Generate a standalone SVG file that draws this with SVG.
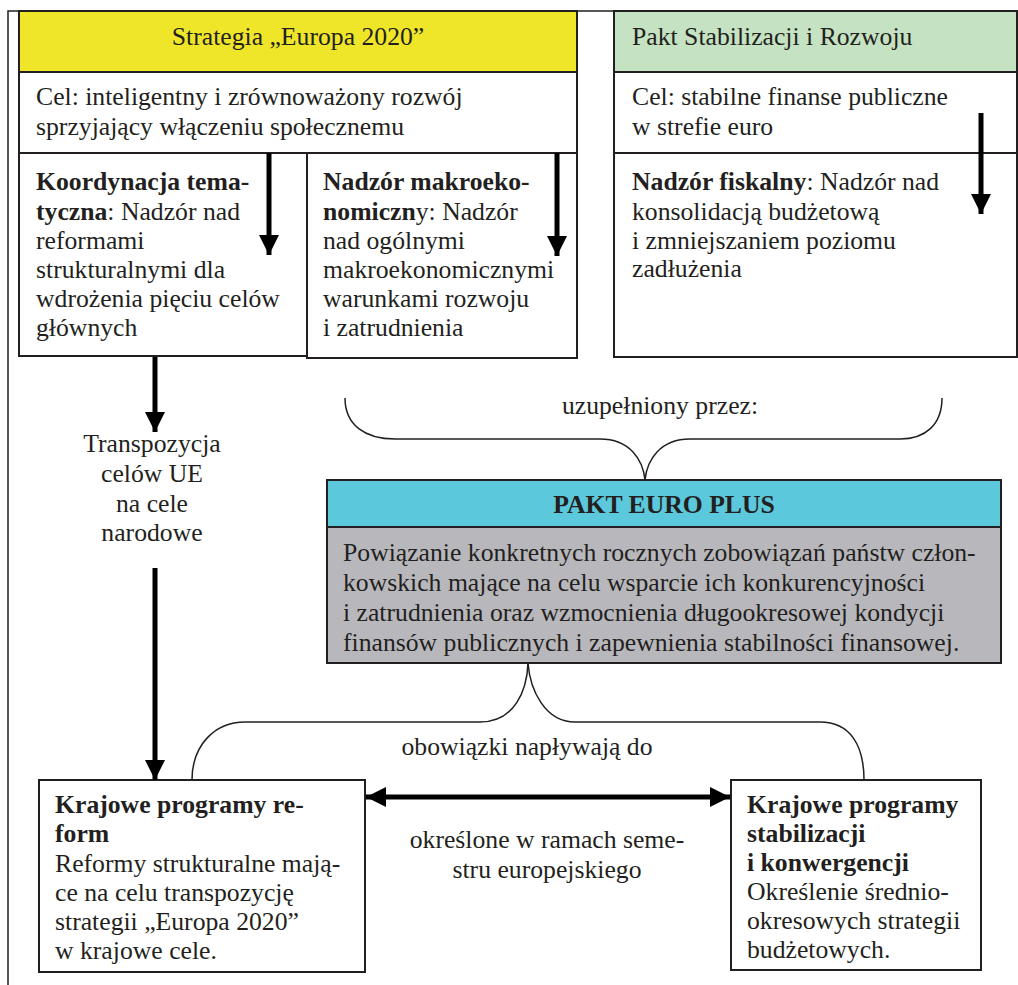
<svg xmlns="http://www.w3.org/2000/svg" width="1018" height="985" viewBox="0 0 1018 985">
<style>
.t{font-family:"Liberation Serif","Times New Roman",serif;font-size:25.7px;fill:#231f20}
.b{font-weight:bold}
.c{text-anchor:middle}
.box{fill:#fff;stroke:#231f20;stroke-width:2}
.ln{fill:none;stroke:#231f20;stroke-width:1.5}
.ar{fill:none;stroke:#000;stroke-width:5}
</style>
<defs>
<marker id="ah" viewBox="0 0 10 10" refX="10" refY="5" markerWidth="4.2" markerHeight="4" orient="auto" markerUnits="strokeWidth">
<path d="M0,0L10,5L0,10z" fill="#000"/>
</marker>
<marker id="ah2" viewBox="0 0 10 10" refX="0" refY="5" markerWidth="4.2" markerHeight="4" orient="auto" markerUnits="strokeWidth">
<path d="M10,0L0,5L10,10z" fill="#000"/>
</marker>
</defs>

<path class="ln" d="M8,985V11H1018"/>

<g class="t" font-family="Liberation Serif, serif">
<g id="strategia">
<rect x="19" y="11" width="558" height="61" fill="#f0e629" stroke="#231f20" stroke-width="2"/>
<text class="c" x="298" y="45">Strategia „Europa 2020”</text>
<rect class="box" x="19" y="72" width="558" height="81"/>
<text x="36" y="105">Cel: inteligentny i zrównoważony rozwój</text>
<text x="36" y="135">sprzyjający włączeniu społecznemu</text>
</g>

<g id="koordynacja">
<rect class="box" x="19" y="153" width="288" height="203"/>
<text x="36" y="190"><tspan class="b">Koordynacja tema-</tspan></text>
<text x="36" y="220"><tspan class="b">tyczna</tspan>: Nadzór nad</text>
<text x="36" y="249">reformami</text>
<text x="36" y="278">strukturalnymi dla</text>
<text x="36" y="307">wdrożenia pięciu celów</text>
<text x="36" y="336">głównych</text>
</g>

<g id="makro">
<rect class="box" x="307" y="153" width="270" height="205"/>
<text x="323" y="190"><tspan class="b">Nadzór makroeko-</tspan></text>
<text x="323" y="220"><tspan class="b">nomiczn</tspan>y: Nadzór</text>
<text x="323" y="249">nad ogólnymi</text>
<text x="323" y="278">makroekonomicznymi</text>
<text x="323" y="307">warunkami rozwoju</text>
<text x="323" y="336">i zatrudnienia</text>
</g>

<g id="pakt-stab">
<rect x="614" y="11" width="403" height="61" fill="#c5e3c2" stroke="#231f20" stroke-width="2"/>
<text x="632" y="45">Pakt Stabilizacji i Rozwoju</text>
<rect class="box" x="614" y="72" width="403" height="81"/>
<text x="632" y="105">Cel: stabilne finanse publiczne</text>
<text x="632" y="135">w strefie euro</text>
<rect class="box" x="614" y="153" width="403" height="204"/>
<text x="632" y="190"><tspan class="b">Nadzór fiskalny</tspan>: Nadzór nad</text>
<text x="632" y="220">konsolidacją budżetową</text>
<text x="632" y="249">i zmniejszaniem poziomu</text>
<text x="632" y="277">zadłużenia</text>
</g>

<g id="transpozycja">
<text class="c" x="152" y="452">Transpozycja</text>
<text class="c" x="152" y="482">celów UE</text>
<text class="c" x="152" y="512">na cele</text>
<text class="c" x="152" y="541">narodowe</text>
</g>

<g id="euro-plus">
<rect x="327" y="480" width="674" height="47" fill="#5bc8dc" stroke="#231f20" stroke-width="2"/>
<text class="c b" x="664" y="513">PAKT EURO PLUS</text>
<rect x="327" y="527" width="674" height="136" fill="#b8b8bc" stroke="#231f20" stroke-width="2"/>
<text x="343" y="561">Powiązanie konkretnych rocznych zobowiązań państw człon-</text>
<text x="343" y="591">kowskich mające na celu wsparcie ich konkurencyjności</text>
<text x="343" y="621">i zatrudnienia oraz wzmocnienia długookresowej kondycji</text>
<text x="343" y="651">finansów publicznych i zapewnienia stabilności finansowej.</text>
</g>

<g id="krajowe-reform">
<rect class="box" x="39" y="780" width="326" height="192"/>
<text class="b" x="55" y="813">Krajowe programy re-</text>
<text class="b" x="55" y="842">form</text>
<text x="55" y="872">Reformy strukturalne mają-</text>
<text x="55" y="901">ce na celu transpozycję</text>
<text x="55" y="930">strategii „Europa 2020”</text>
<text x="55" y="959">w krajowe cele.</text>
</g>

<g id="krajowe-stab">
<rect class="box" x="731" y="780" width="250" height="190"/>
<text class="b" x="747" y="813">Krajowe programy</text>
<text class="b" x="747" y="842">stabilizacji</text>
<text class="b" x="747" y="871">i konwergencji</text>
<text x="747" y="900">Określenie średnio-</text>
<text x="747" y="929">okresowych strategii</text>
<text x="747" y="958">budżetowych.</text>
</g>

<g id="labels">
<text class="c" x="660" y="414">uzupełniony przez:</text>
<text class="c" x="527" y="755">obowiązki napływają do</text>
<text class="c" x="547" y="848">określone w ramach seme-</text>
<text class="c" x="547" y="878">stru europejskiego</text>
</g>
</g>

<g id="connectors">
<line class="ar" x1="269" y1="153" x2="269" y2="255" marker-end="url(#ah)"/>
<line class="ar" x1="557" y1="153" x2="557" y2="256" marker-end="url(#ah)"/>
<line class="ar" x1="981" y1="113" x2="981" y2="214" marker-end="url(#ah)"/>
<line class="ar" x1="155" y1="357" x2="155" y2="432" marker-end="url(#ah)"/>
<line class="ar" x1="155" y1="568" x2="155" y2="780" marker-end="url(#ah)"/>
<line class="ar" x1="366" y1="797" x2="730" y2="797" marker-start="url(#ah2)" marker-end="url(#ah)"/>
<path class="ln" d="M345,398C345,425 365,439 395,439H600C630,439 643,460 645,480C647,460 660,439 690,439H900C925,439 942,425 942,398"/>
<path class="ln" d="M528,663C527,690 515,722 480,722H245C215,722 192,745 192,780"/>
<path class="ln" d="M528,663C530,690 545,722 575,722H820C850,722 864,745 864,780"/>
</g>
</svg>
